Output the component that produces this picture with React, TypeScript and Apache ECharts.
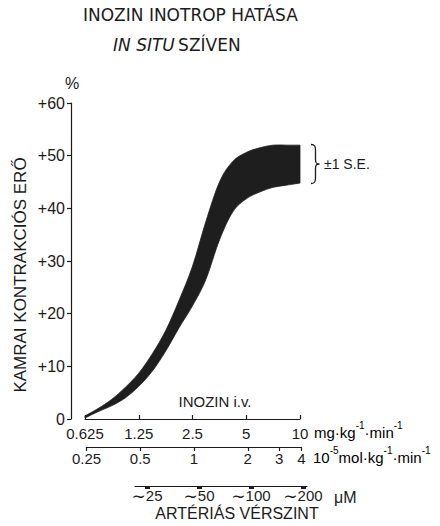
import React, { useEffect, useRef } from "react";
import * as echarts from "echarts";

// Inosine dose, mg·kg⁻¹·min⁻¹ (log scale)
const doseMg = [0.625, 0.74, 0.88, 1.05, 1.25, 1.49, 1.77, 2.1, 2.5, 2.97, 3.54, 4.2, 5, 5.95, 7.07, 8.41, 10];
// Ventricular contractile force, % increase: mean +1 SE and mean -1 SE
const upperSE = [0.6, 2.0, 3.7, 6.0, 8.7, 12.4, 16.8, 22.5, 29.0, 37.5, 45.0, 48.9, 50.6, 51.5, 52.0, 52.0, 52.0];
const lowerSE = [0.2, 1.4, 2.5, 4.0, 6.2, 9.1, 12.9, 17.3, 21.5, 26.5, 34.0, 39.3, 41.8, 43.1, 44.0, 44.4, 44.8];

const mgTicks = [0.625, 1.25, 2.5, 5, 10];
const molTicks = [0.25, 0.5, 1, 2, 3, 4];
const uMTicks = [25, 50, 100, 200];
const yMin = 0;
const yMax = 60;
const yStep = 10;

const FONT = "Liberation Sans, Arial, sans-serif";
const WIDE = "DejaVu Sans, sans-serif";
const INK = "#1b1b1b";
const BAND = "#1e1e1e";

const nearest = (v: number, list: number[]) => {
  let best = list[0];
  for (const t of list) if (Math.abs(Math.log(t) - Math.log(v)) < Math.abs(Math.log(best) - Math.log(v))) best = t;
  return String(best);
};

// Catmull-Rom spline through pixel points, as cubic segments
const spline = (pts: number[][]) => {
  let s = "";
  const n = pts.length;
  for (let i = 0; i < n - 1; i++) {
    const p0 = pts[Math.max(i - 1, 0)];
    const p1 = pts[i];
    const p2 = pts[i + 1];
    const p3 = pts[Math.min(i + 2, n - 1)];
    const c1x = p1[0] + (p2[0] - p0[0]) / 6;
    const c1y = p1[1] + (p2[1] - p0[1]) / 6;
    const c2x = p2[0] - (p3[0] - p1[0]) / 6;
    const c2y = p2[1] - (p3[1] - p1[1]) / 6;
    s += ` C${c1x.toFixed(2)},${c1y.toFixed(2)} ${c2x.toFixed(2)},${c2y.toFixed(2)} ${p2[0].toFixed(2)},${p2[1].toFixed(2)}`;
  }
  return s;
};

export default function App() {
  const ref = useRef<HTMLDivElement>(null);
  useEffect(() => {
    document.body.style.margin = "0";
    if (!ref.current) return;
    const chart = echarts.init(ref.current, null, { renderer: "svg" });

    const braceD = "M0,0 C4,0 4.5,2 4.5,6 L4.5,15 C4.5,18.5 5.5,19.5 8.5,19.5 C5.5,19.5 4.5,20.5 4.5,24 L4.5,33 C4.5,37 4,39 0,39";
    echarts.graphic.registerShape("brace", echarts.graphic.extendPath(braceD, {}) as any);

    const supRich = {
      b: { fontSize: 15, fontFamily: FONT, color: INK, verticalAlign: "bottom", lineHeight: 19 },
      s: { fontSize: 10, fontFamily: FONT, color: INK, verticalAlign: "top", lineHeight: 19 },
    };

    const axisBase = {
      axisLine: { show: true, lineStyle: { color: INK, width: 1.2 } },
      splitLine: { show: false },
      minorTick: { show: false },
    };

    const option: any = {
      animation: false,
      backgroundColor: "#ffffff",
      grid: [
        { left: 85, top: 103, width: 215, height: 316 },
        { left: 86.5, top: 430, width: 215, height: 17 },
        { left: 135, top: 470, width: 172, height: 16 },
      ],
      xAxis: [
        {
          ...axisBase,
          gridIndex: 0,
          type: "log",
          logBase: 2,
          min: 0.625,
          max: 10,
          axisTick: { show: true, inside: true, length: 4, lineStyle: { color: INK, width: 1.2 }, customValues: mgTicks },
          axisLabel: {
            show: true,
            customValues: mgTicks,
            margin: 7,
            fontSize: 15,
            fontFamily: FONT,
            color: INK,
            formatter: (v: number) => nearest(v, mgTicks),
          },
        },
        {
          ...axisBase,
          gridIndex: 1,
          type: "log",
          logBase: 2,
          min: 0.25,
          max: 4,
          axisTick: { show: true, inside: false, length: 4, lineStyle: { color: INK, width: 1.2 }, customValues: molTicks },
          axisLabel: {
            show: true,
            customValues: molTicks,
            margin: 4,
            fontSize: 15,
            fontFamily: FONT,
            color: INK,
            formatter: (v: number) => nearest(v, molTicks),
          },
        },
        {
          ...axisBase,
          gridIndex: 2,
          type: "log",
          logBase: 2,
          min: 21.3,
          max: 211,
          axisTick: { show: true, inside: false, length: 3, lineStyle: { color: INK, width: 5 }, customValues: uMTicks },
          axisLabel: {
            show: true,
            customValues: uMTicks,
            margin: 3,
            fontSize: 15,
            lineHeight: 13,
            fontFamily: FONT,
            color: INK,
            rich: { t: { fontSize: 17, lineHeight: 13, fontFamily: WIDE, color: INK } },
            formatter: (v: number) => "{t|∼}" + nearest(v, uMTicks),
          },
        },
      ],
      yAxis: [
        {
          ...axisBase,
          gridIndex: 0,
          type: "value",
          min: yMin,
          max: yMax,
          interval: yStep,
          offset: 14,
          axisTick: { show: true, inside: false, length: 4, lineStyle: { color: INK, width: 1.2 } },
          axisLabel: {
            margin: 6,
            fontSize: 16,
            fontFamily: FONT,
            color: INK,
            formatter: (v: number) => (v === 0 ? "0" : "+" + v),
          },
        },
        { gridIndex: 1, type: "value", show: false },
        { gridIndex: 2, type: "value", show: false },
      ],
      series: [
        {
          name: "±1 SE",
          type: "custom",
          xAxisIndex: 0,
          yAxisIndex: 0,
          silent: true,
          encode: { x: 0, y: [1, 2] },
          data: doseMg.map((d, i) => [d, lowerSE[i], upperSE[i]]),
          renderItem: (params: any, api: any) => {
            if (params.dataIndex !== 0) return null;
            const up = doseMg.map((d, i) => api.coord([d, upperSE[i]]));
            const lo = doseMg.map((d, i) => api.coord([d, lowerSE[i]])).reverse();
            const last = lo[0];
            const pathData =
              `M${up[0][0].toFixed(2)},${up[0][1].toFixed(2)}` +
              spline(up) +
              ` L${last[0].toFixed(2)},${last[1].toFixed(2)}` +
              spline(lo) +
              " Z";
            return {
              type: "path",
              shape: { pathData },
              style: { fill: BAND, stroke: BAND, lineWidth: 0.8 },
            };
          },
        },
      ],
      graphic: [
        {
          type: "text",
          x: 83,
          y: 15,
          style: { text: "INOZIN INOTROP HATÁSA", fontSize: 17, fontFamily: WIDE, fill: INK, align: "left", verticalAlign: "middle" },
        },
        {
          type: "text",
          x: 113,
          y: 45,
          style: {
            text: "{i|IN SITU} {n|SZÍVEN}",
            align: "left",
            verticalAlign: "middle",
            rich: {
              i: { fontSize: 17, fontStyle: "italic", fontFamily: WIDE, fill: INK },
              n: { fontSize: 17, fontFamily: WIDE, fill: INK },
            },
          },
        },
        {
          type: "text",
          x: 20,
          y: 275,
          rotation: Math.PI / 2,
          style: { text: "KAMRAI KONTRAKCIÓS ERŐ", fontSize: 17, fontFamily: FONT, fill: INK, align: "center", verticalAlign: "middle" },
        },
        {
          type: "text",
          x: 72,
          y: 83,
          style: { text: "%", fontSize: 16, fontFamily: FONT, fill: INK, align: "center", verticalAlign: "middle" },
        },
        {
          type: "text",
          x: 215,
          y: 401,
          style: { text: "INOZIN i.v.", fontSize: 15, fontFamily: FONT, fill: INK, align: "center", verticalAlign: "middle" },
        },
        {
          type: "brace",
          x: 311,
          y: 144.5,
          style: { stroke: INK, fill: "none", lineWidth: 1.3 },
        },
        {
          type: "text",
          x: 324,
          y: 164,
          style: { text: "±1 S.E.", fontSize: 14, fontFamily: FONT, fill: INK, align: "left", verticalAlign: "middle" },
        },
        {
          type: "text",
          x: 314,
          y: 430,
          style: {
            text: "{b|mg·kg}{s|-1}{b|·min}{s|-1}",
            align: "left",
            verticalAlign: "middle",
            rich: supRich,
          },
        },
        {
          type: "text",
          x: 313,
          y: 455,
          style: {
            text: "{b|10}{s|-5}{b|mol·kg}{s|-1}{b|·min}{s|-1}",
            align: "left",
            verticalAlign: "middle",
            rich: supRich,
          },
        },
        {
          type: "text",
          x: 334,
          y: 497,
          style: { text: "μM", fontSize: 16, lineHeight: 14, fontFamily: FONT, fill: INK, align: "left", verticalAlign: "middle" },
        },
        {
          type: "text",
          x: 237,
          y: 513,
          style: { text: "ARTÉRIÁS VÉRSZINT", fontSize: 16, lineHeight: 14, fontFamily: FONT, fill: INK, align: "center", verticalAlign: "middle" },
        },
      ],
    };

    chart.setOption(option);
    return () => chart.dispose();
  }, []);

  return <div ref={ref} style={{ width: 440, height: 526 }} />;
}
